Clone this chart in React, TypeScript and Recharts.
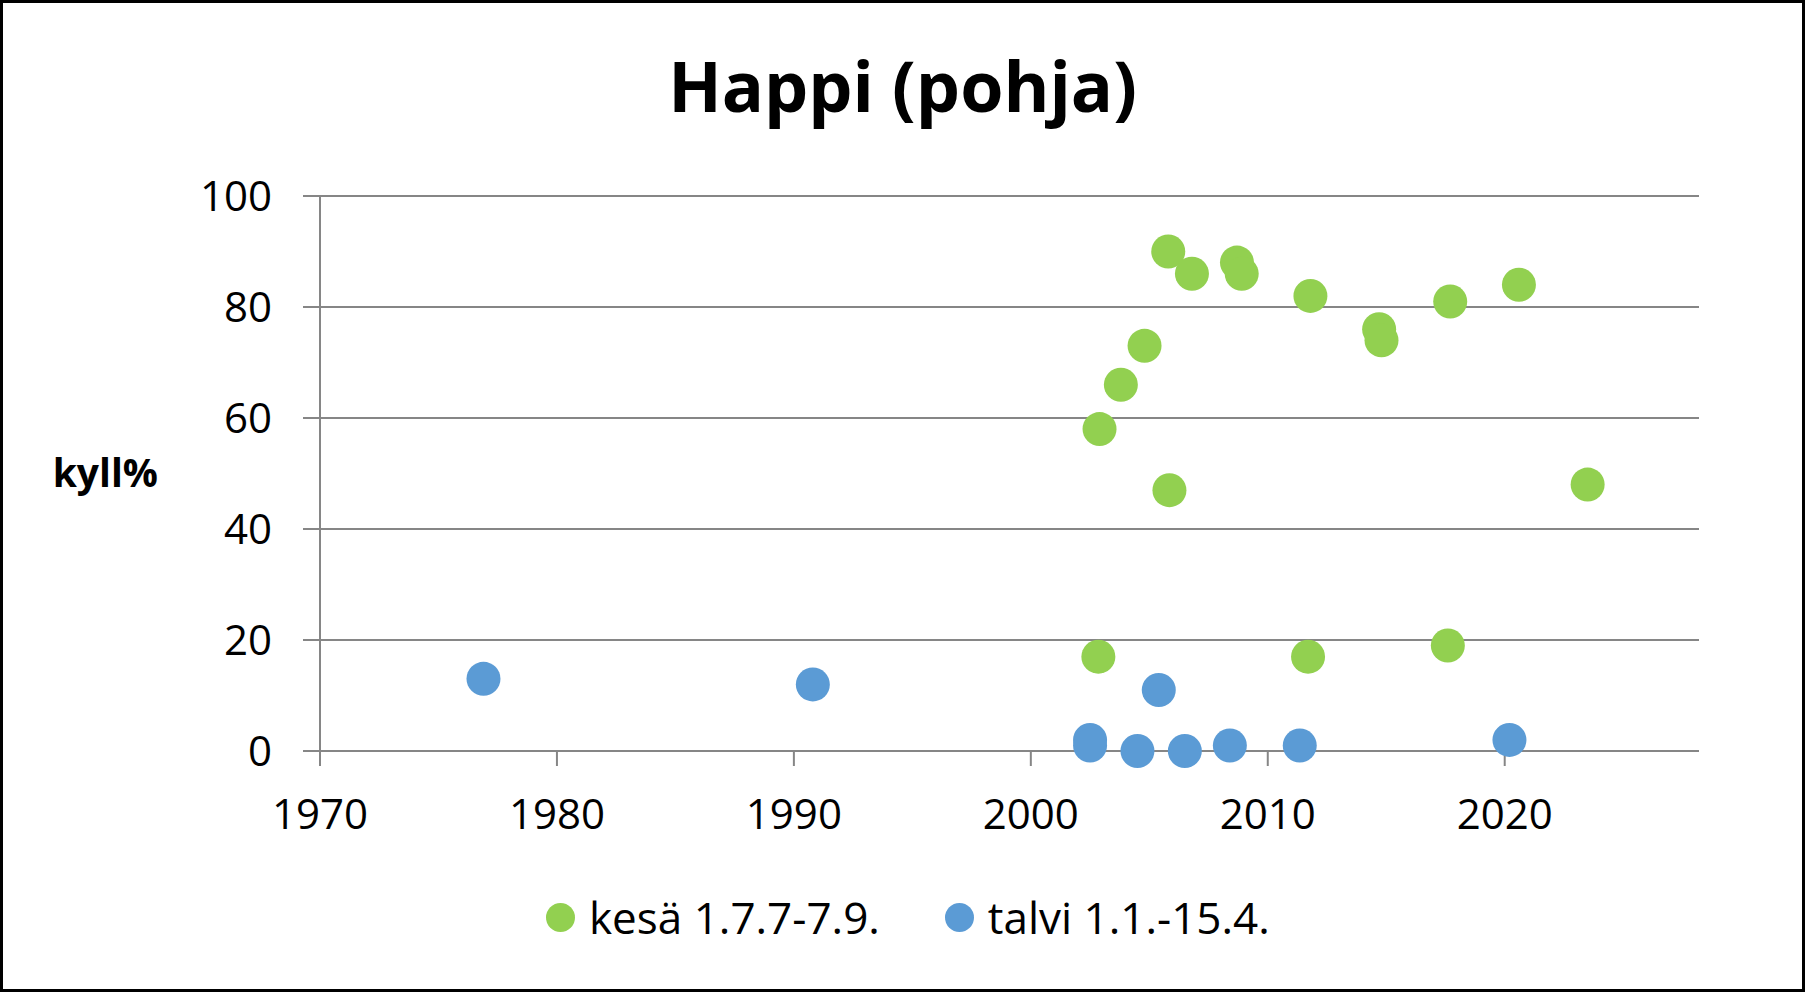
import { ScatterChart, Scatter, XAxis, YAxis, CartesianGrid } from 'recharts';

const chartTitle = 'Happi (pohja)';
const yLabel = 'kyll%';

const seriesNames = ['kesä 1.7.7-7.9.', 'talvi 1.1.-15.4.'];
const seriesColors = ['#92D050', '#5B9BD5'];

const kesaYears = [2002.9, 2003.8, 2004.8, 2005.8, 2005.85, 2006.8, 2008.7, 2008.9, 2011.8, 2014.7, 2014.8, 2017.7, 2020.6, 2023.5, 2002.85, 2011.7, 2017.6];
const kesaValues = [58, 66, 73, 90, 47, 86, 88, 86, 82, 76, 74, 81, 84, 48, 17, 17, 19];

const talviYears = [1976.9, 1990.8, 2002.5, 2002.5, 2004.5, 2005.4, 2006.5, 2008.4, 2011.35, 2020.2];
const talviValues = [13, 12, 2, 1, 0, 11, 0, 1, 1, 2];

const xTicks = [1970, 1980, 1990, 2000, 2010, 2020];
const yTicks = [0, 20, 40, 60, 80, 100];

const kesaData = kesaYears.map((x, i) => ({ x, y: kesaValues[i] }));
const talviData = talviYears.map((x, i) => ({ x, y: talviValues[i] }));

const font = '"Open Sans", sans-serif';
const gray = '#868686';

// Excel-style round markers, ~34px across
const dot = (color: string) => (props: any) => (
  <circle cx={props.cx} cy={props.cy} r={17} fill={color} />
);

export default function App() {
  return (
    <div style={{ position: 'absolute', left: 0, top: 0, width: 1805, height: 992, background: '#fff', fontFamily: font }}>
      <ScatterChart width={1805} height={992} margin={{ top: 196, right: 106, bottom: 181, left: 220 }}>
        <CartesianGrid horizontal vertical={false} stroke={gray} strokeWidth={2} />
        <XAxis
          type="number"
          dataKey="x"
          domain={[1970, 2028.2]}
          ticks={xTicks}
          allowDataOverflow
          height={60}
          tickSize={15}
          tickMargin={33}
          stroke={gray}
          strokeWidth={2}
          tick={{ fill: '#000', fontSize: 42, fontFamily: font }}
        />
        <YAxis
          type="number"
          dataKey="y"
          domain={[0, 100]}
          ticks={yTicks}
          width={100}
          tickSize={17}
          tickMargin={31}
          stroke={gray}
          strokeWidth={2}
          tick={{ fill: '#000', fontSize: 42, fontFamily: font }}
          label={{ value: yLabel, position: 'left', offset: 62, fill: '#000', fontSize: 39, fontWeight: 700, fontFamily: font }}
        />
        <Scatter name={seriesNames[0]} data={kesaData} fill={seriesColors[0]} shape={dot(seriesColors[0])} isAnimationActive={false} />
        <Scatter name={seriesNames[1]} data={talviData} fill={seriesColors[1]} shape={dot(seriesColors[1])} isAnimationActive={false} />
      </ScatterChart>
      <div style={{ position: 'absolute', left: 0, top: 40, width: 1805, textAlign: 'center', fontSize: 70, fontWeight: 700, lineHeight: '90px', color: '#000' }}>
        {chartTitle}
      </div>
      <div style={{ position: 'absolute', left: 546, top: 889, display: 'flex', gap: 65, fontSize: 44, lineHeight: '56px', color: '#000', whiteSpace: 'nowrap' }}>
        {seriesNames.map((name, i) => (
          <div key={name} style={{ display: 'flex', alignItems: 'center', gap: 14 }}>
            <span style={{ display: 'inline-block', width: 29, height: 29, borderRadius: 15, background: seriesColors[i] }} />
            <span>{name}</span>
          </div>
        ))}
      </div>
      <div style={{ position: 'absolute', left: 0, top: 0, width: 1805, height: 992, boxSizing: 'border-box', border: '3px solid #000', pointerEvents: 'none' }} />
    </div>
  );
}
